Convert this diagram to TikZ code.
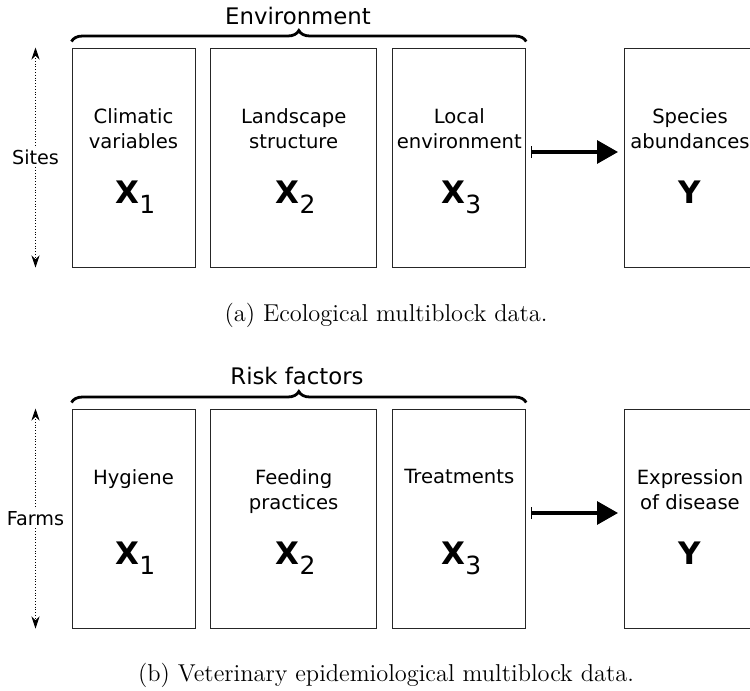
\documentclass[tikz,border=0pt]{standalone}
\usepackage{fontspec}
\setsansfont{DejaVu Sans}
\usetikzlibrary{arrows.meta,decorations.pathreplacing}

\newcommand{\blockvar}[2]{{\fontsize{15.5}{18}\selectfont\bfseries #1}\raisebox{-5pt}{\fontsize{12.5}{14}\selectfont #2}}

\begin{document}
\begin{tikzpicture}%
	[x=0.5pt, y=-0.5pt,
	block/.style={draw=black!85, line width=0.5pt, inner sep=0pt, minimum height=109.5pt},
	blocktext/.style={font=\sffamily\fontsize{9.8}{12.5}\selectfont, align=center, anchor=north, inner sep=0pt},
	blockvar/.style={font=\sffamily, anchor=base, inner sep=0pt},
	grouplabel/.style={font=\sffamily\fontsize{11.4}{14}\selectfont, anchor=base, inner sep=0pt},
	groupbrace/.style={decorate, decoration={brace, amplitude=5.5pt}, line width=1.4pt},
	rows/.style={densely dotted, line width=0.4pt, {Stealth[length=6pt,width=4pt]}-{Stealth[length=6pt,width=4pt]}},
	rowlabel/.style={font=\sffamily\fontsize{9.6}{12}\selectfont, fill=white, inner sep=1pt},
	predict/.style={line width=1.6pt, {Bar[width=6pt,line width=0.6pt]}-{Triangle[length=10.5pt,width=11.5pt]}},
	caption/.style={font=\fontsize{12.2}{14}\selectfont, anchor=base}]
	%
	\useasboundingbox (0,0) rectangle (750,691);
	\clip (0,0) rectangle (750,691);
	%%
	%% (a) ecological data
	%%
	\node[block, minimum width=61.5pt] (a1) at (133.5,157.5) {};
	\node[block, minimum width=83pt] (a2) at (293.7,157.5) {};
	\node[block, minimum width=66.4pt] (a3) at (459.3,157.5) {};
	\node[block, minimum width=66pt] (a4) at (690,157.5) {};

	\node[blocktext] (a1t) at (133.5,108.3) {Climatic\\variables};
	\node[blocktext] (a2t) at (293.7,108.3) {Landscape\\structure};
	\node[blocktext] (a3t) at (459.3,108.3) {Local\\environment};
	\node[blocktext] (a4t) at (690,108.3) {Species\\abundances};

	\node[blockvar] (a1x) at (135.5,203) {\blockvar{X}{1}};
	\node[blockvar] (a2x) at (295.7,203) {\blockvar{X}{2}};
	\node[blockvar] (a3x) at (461.3,203) {\blockvar{X}{3}};
	\node[blockvar] (a4x) at (690,203) {{\fontsize{15.5}{18}\selectfont\bfseries Y}};

	\draw[groupbrace] ([yshift=3pt]a1.north west) -- ([yshift=3pt]a3.north east);
	\node[grouplabel] (aenv) at (298,24) {Environment};

	\draw[rows] ([xshift=-18pt]a1.north west) -- ([xshift=-18pt]a1.south west)
		node[rowlabel, midway] (asites) {Sites};
	\draw[predict] ([shift={(2.5pt,2.75pt)}]a3.east) -- ([shift={(-2.75pt,2.75pt)}]a4.west);

	\node[caption] (acap) at (386,321.7) {(a) Ecological multiblock data.};
	%%
	%% (b) veterinary data
	%%
	\begin{scope}[shift={(0,361)}]
		\node[block, minimum width=61.5pt] (b1) at (133.5,157.5) {};
		\node[block, minimum width=83pt] (b2) at (293.7,157.5) {};
		\node[block, minimum width=66.4pt] (b3) at (459.3,157.5) {};
		\node[block, minimum width=66pt] (b4) at (690,157.5) {};

		\node[blocktext] (b1t) at (133.5,108.3) {Hygiene};
		\node[blocktext] (b2t) at (293.7,108.3) {Feeding\\practices};
		\node[blocktext] (b3t) at (459.3,108.3) {Treatments};
		\node[blocktext] (b4t) at (690,108.3) {Expression\\of disease};

		\node[blockvar] (b1x) at (135.5,203) {\blockvar{X}{1}};
		\node[blockvar] (b2x) at (295.7,203) {\blockvar{X}{2}};
		\node[blockvar] (b3x) at (461.3,203) {\blockvar{X}{3}};
		\node[blockvar] (b4x) at (690,203) {{\fontsize{15.5}{18}\selectfont\bfseries Y}};

		\draw[groupbrace] ([yshift=3pt]b1.north west) -- ([yshift=3pt]b3.north east);
		\node[grouplabel] (brisk) at (297,23) {Risk factors};

		\draw[rows] ([xshift=-18pt]b1.north west) -- ([xshift=-18pt]b1.south west)
			node[rowlabel, midway] (bfarms) {Farms};
		\draw[predict] ([shift={(2.5pt,2.75pt)}]b3.east) -- ([shift={(-2.75pt,2.75pt)}]b4.west);

		\node[caption] (bcap) at (386,320) {(b) Veterinary epidemiological multiblock data.};
	\end{scope}

\end{tikzpicture}
\end{document}
